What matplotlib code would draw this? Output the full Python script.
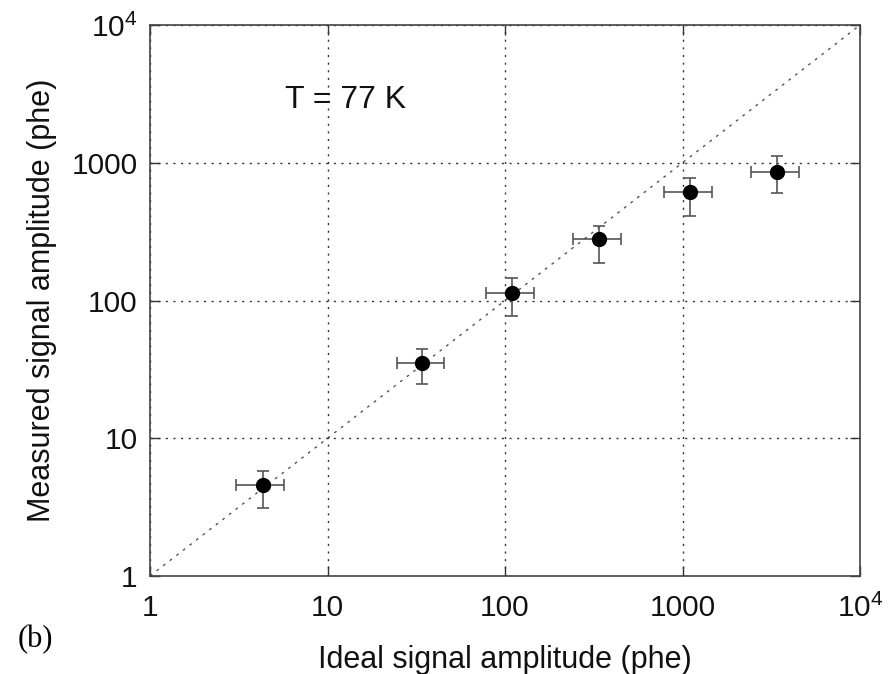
import matplotlib
matplotlib.use("Agg")
import matplotlib.pyplot as plt
import numpy as np

plt.rcParams['font.family'] = ['Liberation Sans', 'DejaVu Sans']
plt.rcParams['mathtext.fontset'] = 'custom'
plt.rcParams['mathtext.rm'] = 'Liberation Sans'
plt.rcParams['mathtext.it'] = 'Liberation Sans'

# Data
ideal = [4.35, 34.2, 110, 340, 1102, 3420]
ideal_lo = [3.05, 24.5, 78.2, 243, 790, 2432]
ideal_hi = [5.69, 45.5, 146, 449, 1460, 4550]
measured = [4.58, 35.3, 113, 278, 610, 861]
meas_lo = [3.10, 24.6, 77.6, 188, 413, 600]
meas_hi = [5.81, 44.2, 145, 349, 771, 1120]

ticks = [1, 10, 100, 1000, 10000]
tick_labels = ['1', '10', '100', '1000', r'$10^4$']

fig = plt.figure(figsize=(8.91, 6.74), dpi=100)
ax = fig.add_axes([150/891, 1-576/674, 710/891, 551/674])
ax.set_xscale('log')
ax.set_yscale('log')
ax.set_xlim(1, 1e4)
ax.set_ylim(1, 1e4)

ax.plot([1, 1e4], [1, 1e4], linestyle=(0, (2, 4)), color='#555555', lw=1.0, zorder=1)

x = np.array(ideal); y = np.array(measured)
xerr = [x - np.array(ideal_lo), np.array(ideal_hi) - x]
yerr = [y - np.array(meas_lo), np.array(meas_hi) - y]
ax.errorbar(x, y, xerr=xerr, yerr=yerr, fmt='o', color='black', ms=10,
            ecolor='#555555', elinewidth=1.2, capsize=4.5, capthick=1.2, zorder=3)

ax.set_xticks(ticks)
ax.set_xticklabels(tick_labels)
ax.set_yticks(ticks)
ax.set_yticklabels(tick_labels)
ax.minorticks_off()
ax.tick_params(which='major', direction='in', length=7, width=1, top=True, right=True,
               labelsize=21.5, pad=9, colors='#333333', labelcolor='#111111')
ax.tick_params(axis='x', pad=13)
ax.grid(True, which='major', linestyle=(0, (1.5, 4)), color='#333333', lw=1.0)
for s in ax.spines.values():
    s.set_color('#444444')
    s.set_linewidth(1.2)

ax.set_xlabel('Ideal signal amplitude (phe)', fontsize=22, labelpad=16, color='#111111')
ax.set_ylabel('Measured signal amplitude (phe)', fontsize=22, labelpad=10, color='#111111')

ax.text(0.19, 0.864, 'T = 77 K', transform=ax.transAxes, fontsize=23, color='#111111',
        va='center')
fig.text(18/891, 1-640/674, '(b)', fontsize=22, family=['Liberation Serif'], va='center')

fig.savefig('out.png', dpi=100)
